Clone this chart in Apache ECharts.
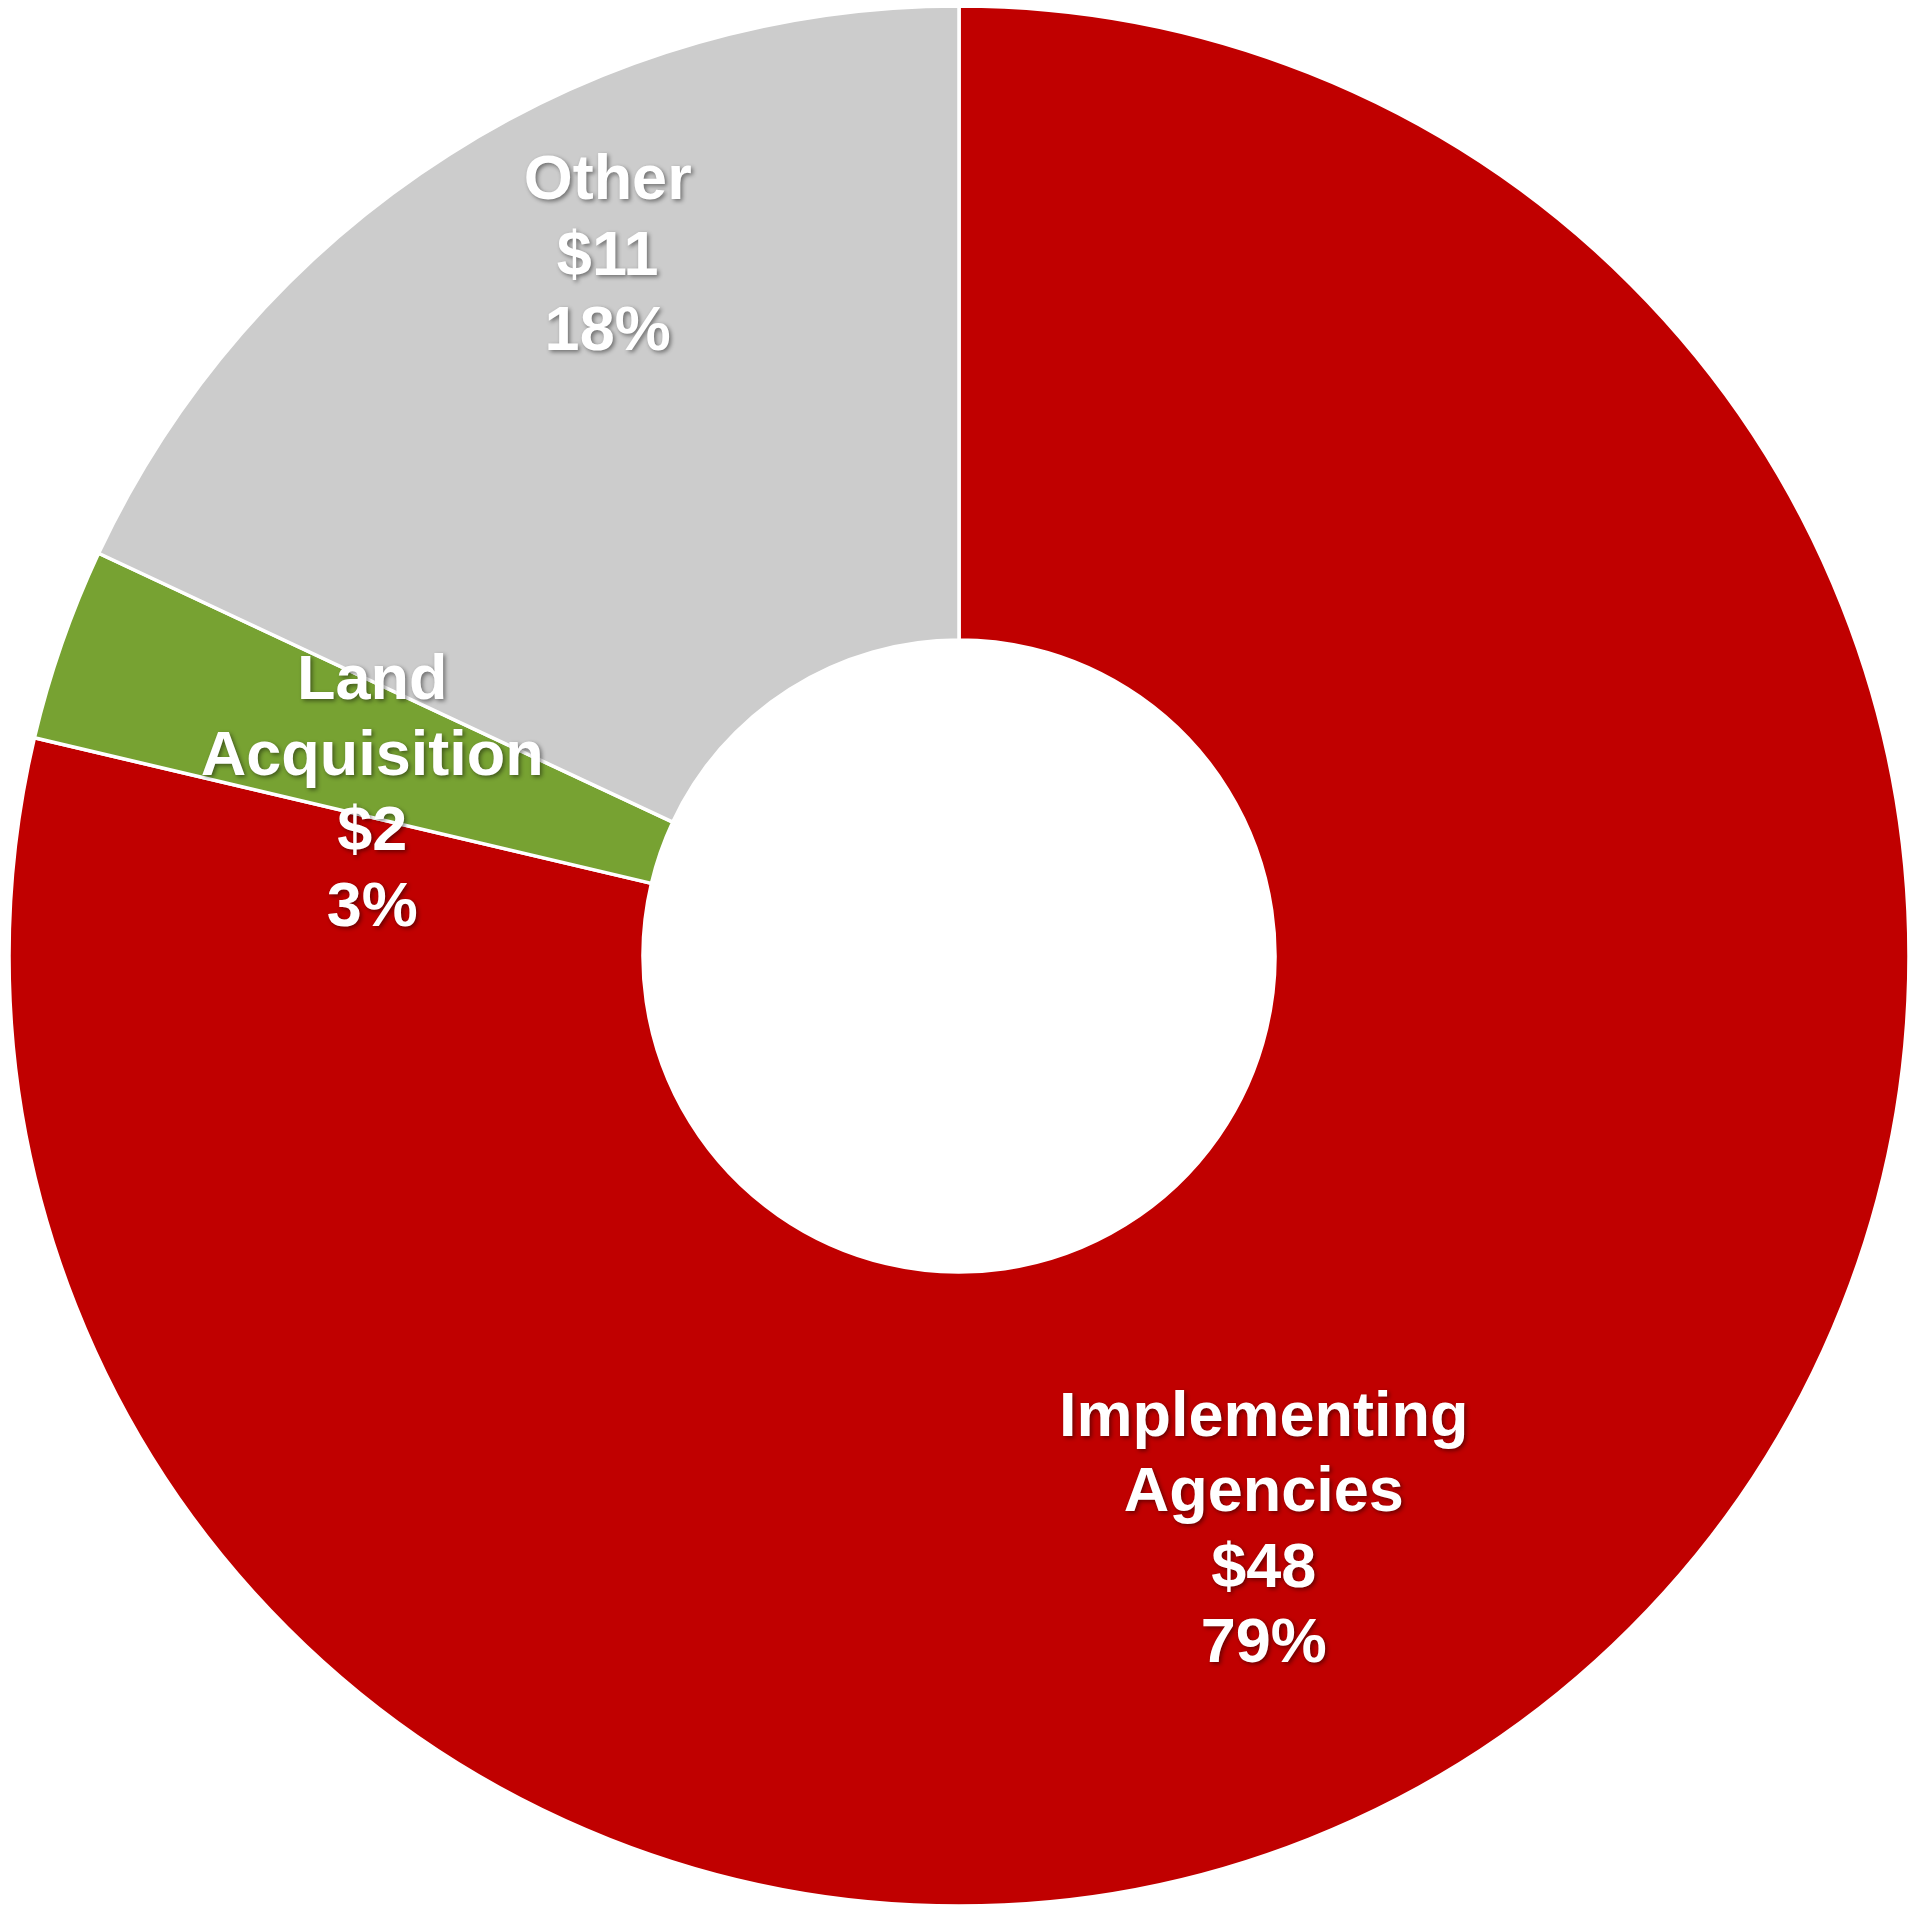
<!DOCTYPE html>
<html>
<head>
<meta charset="utf-8">
<script src="https://cdn.jsdelivr.net/npm/echarts@6/dist/echarts.min.js"></script>
<style>
html,body{margin:0;padding:0;background:#fff;}
#chart{width:1910px;height:1911px;}
</style>
</head>
<body>
<div id="chart"></div>
<script>
const categories = ["Implementing Agencies", "Land Acquisition", "Other"];
const values = [48, 2, 11];
const colors = ["#C00000", "#77A232", "#CCCCCC"];

// label nudges from ECharts' default "inside" anchor (layout only)
const labelNudge = [[-90, 77], [14, 48], [-10, -162]];

const chart = echarts.init(document.getElementById('chart'), null, {renderer: 'canvas'});
chart.setOption({
  animation: false,
  backgroundColor: '#ffffff',
  series: [{
    type: 'pie',
    center: [959, 956],
    radius: [316, 950],
    startAngle: 90,
    clockwise: true,
    avoidLabelOverlap: false,
    data: categories.map((c, i) => ({
      name: c,
      value: values[i],
      itemStyle: {color: colors[i]}
    })),
    itemStyle: {borderColor: '#ffffff', borderWidth: 3.5},
    label: {
      show: true,
      position: 'inside',
      formatter: p => p.name.replace(' ', '\n') + '\n$' + p.value + '\n' + Math.round(p.percent) + '%',
      color: '#ffffff',
      fontFamily: '"Liberation Sans", Arial, sans-serif',
      fontWeight: 'bold',
      fontSize: 63,
      lineHeight: 75.5,
      align: 'center',
      textShadowColor: 'rgba(0,0,0,0.45)',
      textShadowBlur: 4,
      textShadowOffsetX: 2,
      textShadowOffsetY: 2
    },
    labelLine: {show: false},
    labelLayout: p => ({dx: labelNudge[p.dataIndex][0], dy: labelNudge[p.dataIndex][1]}),
    emphasis: {disabled: true}
  }]
});
</script>
</body>
</html>
